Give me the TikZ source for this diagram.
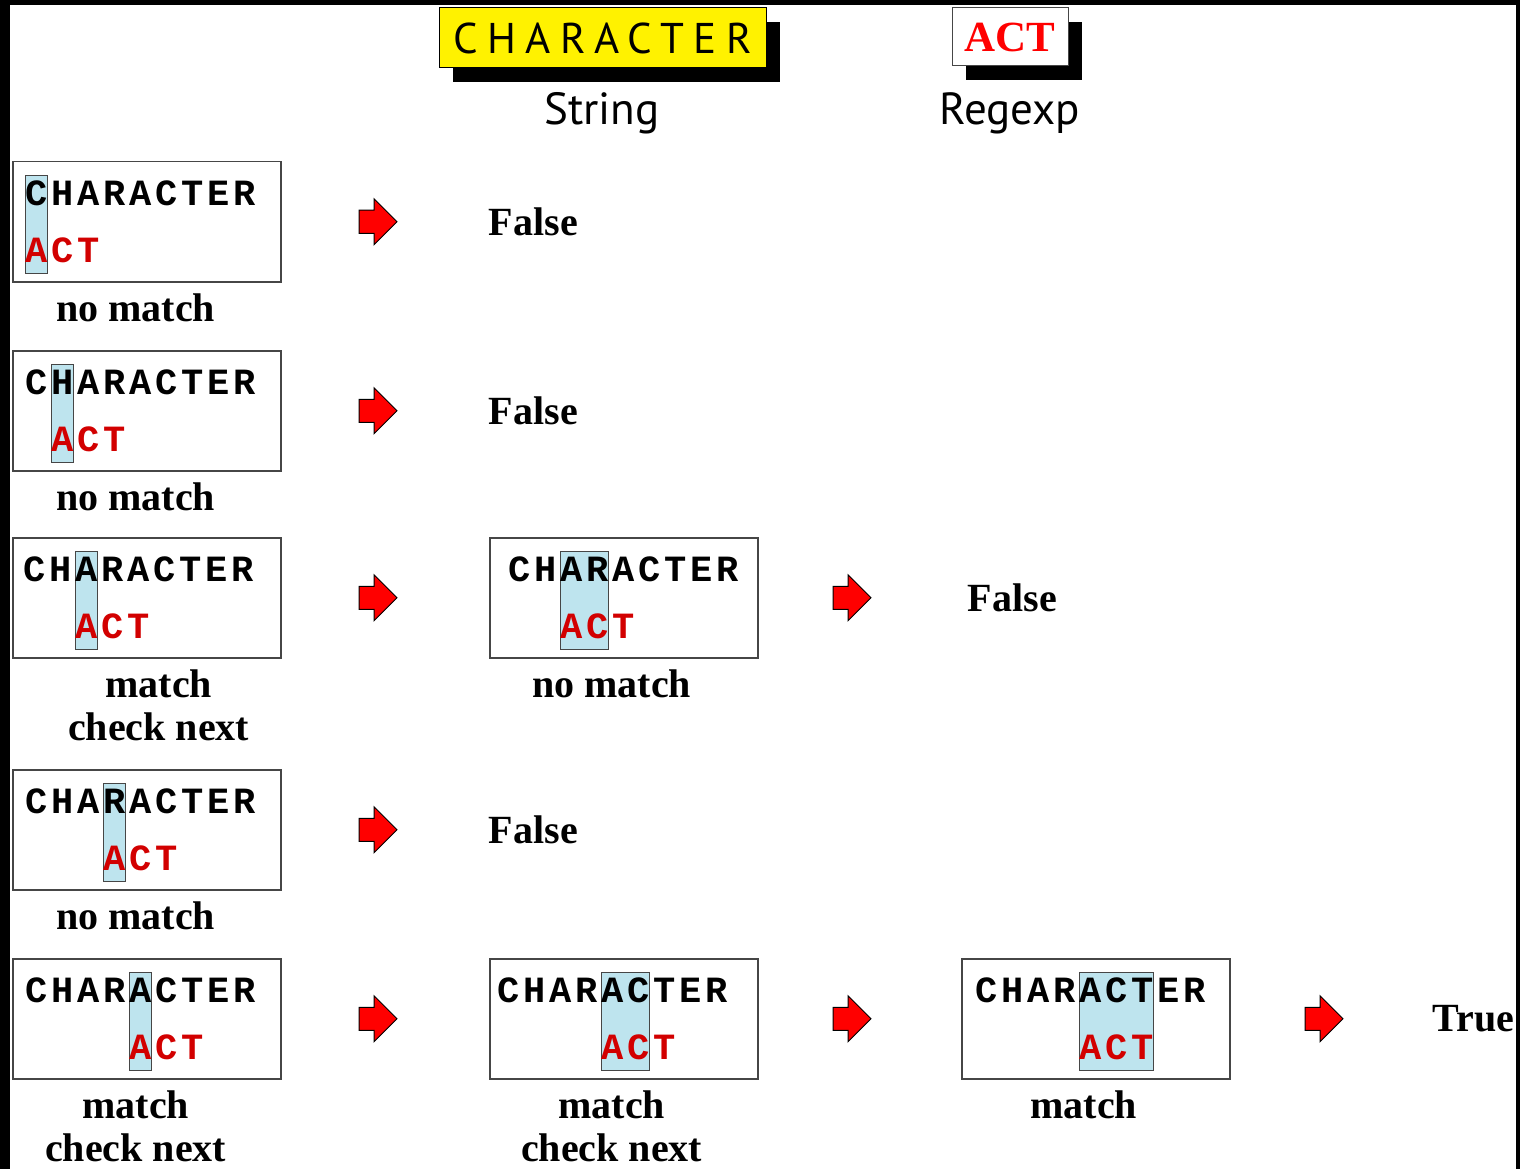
\documentclass[tikz,border=0pt]{standalone}
\usepackage{fontspec}
\setmainfont{Liberation Serif}
\newfontfamily\codefont[LetterSpace=10.3]{Liberation Mono}
\newfontfamily\headfont[LetterSpace=22]{PT Sans}
\newfontfamily\tagfont{PT Sans}
\usetikzlibrary{positioning,shapes.arrows,shadows}
\definecolor{hiblue}{RGB}{190,228,238}
\definecolor{edgegray}{RGB}{70,70,70}
\definecolor{actred}{RGB}{210,0,0}
\tikzset{
    stepbox/.style={
        draw=edgegray, line width=1.5pt,
        minimum width=268pt, minimum height=120pt,
        inner sep=0pt, anchor=north west
    },
    matchwin/.style={
        draw=edgegray, line width=1.2pt, fill=hiblue,
        minimum height=98pt, inner sep=0pt, anchor=north west
    },
    codetext/.style={font=\codefont\bfseries\fontsize{37}{37}\selectfont, inner sep=0pt, anchor=base west},
    captiontext/.style={font=\bfseries\fontsize{40}{43}\selectfont, align=center, inner sep=0pt},
    resulttext/.style={font=\bfseries\fontsize{40}{43}\selectfont, inner sep=0pt, anchor=west},
    tagtext/.style={font=\tagfont\fontsize{45}{45}\selectfont, inner sep=0pt, anchor=base},
    redarrow/.style={
        single arrow, draw=black, fill=red, line width=1pt,
        minimum height=38pt, minimum width=45pt,
        single arrow head extend=11.5pt, inner xsep=0pt, inner ysep=11pt
    },
    shadowbox/.style={
        draw, line width=1pt, inner sep=0pt,
        drop shadow={shadow xshift=14pt, shadow yshift=-14pt, fill=black, opacity=1}
    }
}
% name, x of text, box top, box left, offset, window width in chars
\newcommand\matchstep[6]{%
    \node[stepbox] (#1) at (#4,#3) {};
    \node[matchwin, minimum width={26*#6-4}] (#1w) at ({#2+26*#5},{#3+14}) {};
    \node[codetext] (#1s) at (#2,{#3+44}) {CHARACTER};
    \node[codetext, text=actred] (#1p) at ({#2+26*#5},{#3+101}) {ACT};
}

\begin{document}
\begin{tikzpicture}[x=1pt,y=-1pt]
    \useasboundingbox (0,0) rectangle (1520,1169);

    % the two inputs
    \node[shadowbox, fill=yellow, minimum width=327pt, minimum height=60pt] (str) at (602.5,38)
        {\headfont\fontsize{43}{43}\selectfont CHARACTER};
    \node[shadowbox, draw=edgegray, fill=white, minimum width=116pt, minimum height=58pt] (pat) at (1010,37)
        {\bfseries\fontsize{43}{43}\selectfont\textcolor{red}{ACT}};
    \node[tagtext] (strname) at (602,125) {String};
    \node[tagtext] (patname) at (1010,125) {Regexp};

    % first column
    \matchstep{b1}{25}{161}{12}{0}{1}
    \matchstep{b2}{25}{350}{12}{1}{1}
    \matchstep{b3}{23}{537}{12}{2}{1}
    \matchstep{b4}{25}{769}{12}{3}{1}
    \matchstep{b5}{25}{958}{12}{4}{1}

    % later columns
    \matchstep{m3}{508}{537}{489}{2}{2}
    \matchstep{m5}{497}{958}{489}{4}{2}
    \matchstep{r5}{975}{958}{961}{4}{3}

    \node[captiontext, below=11pt of b1, xshift=-11pt] (c1) {no match};
    \node[captiontext, below=11pt of b2, xshift=-11pt] (c2) {no match};
    \node[captiontext, below=11pt of b3, xshift=12pt] (c3) {match\\check next};
    \node[captiontext, below=11pt of b4, xshift=-11pt] (c4) {no match};
    \node[captiontext, below=11pt of b5, xshift=-11pt] (c5) {match\\check next};
    \node[captiontext, below=11pt of m3, xshift=-12pt] (cm3) {no match};
    \node[captiontext, below=11pt of m5, xshift=-12pt] (cm5) {match\\check next};
    \node[captiontext, below=11pt of r5, xshift=-12pt] (cr5) {match};

    \node[redarrow, right=77pt of b1] (a1) {};
    \node[redarrow, right=77pt of b2] (a2) {};
    \node[redarrow, right=77pt of b3] (a3) {};
    \node[redarrow, right=77pt of b4] (a4) {};
    \node[redarrow, right=77pt of b5] (a5) {};
    \node[redarrow, right=74pt of m3] (am3) {};
    \node[redarrow, right=74pt of m5] (am5) {};
    \node[redarrow, right=74pt of r5] (ar5) {};

    \node[resulttext, right=91pt of a1] (f1) {False};
    \node[resulttext, right=91pt of a2] (f2) {False};
    \node[resulttext, right=96pt of am3] (f3) {False};
    \node[resulttext, right=91pt of a4] (f4) {False};
    \node[resulttext, right=89pt of ar5] (t5) {True};

    % frame
    \fill (0,0) rectangle (10,1169);
    \fill (0,0) rectangle (1520,5);
    \fill (1516,0) rectangle (1520,1169);
\end{tikzpicture}
\end{document}
